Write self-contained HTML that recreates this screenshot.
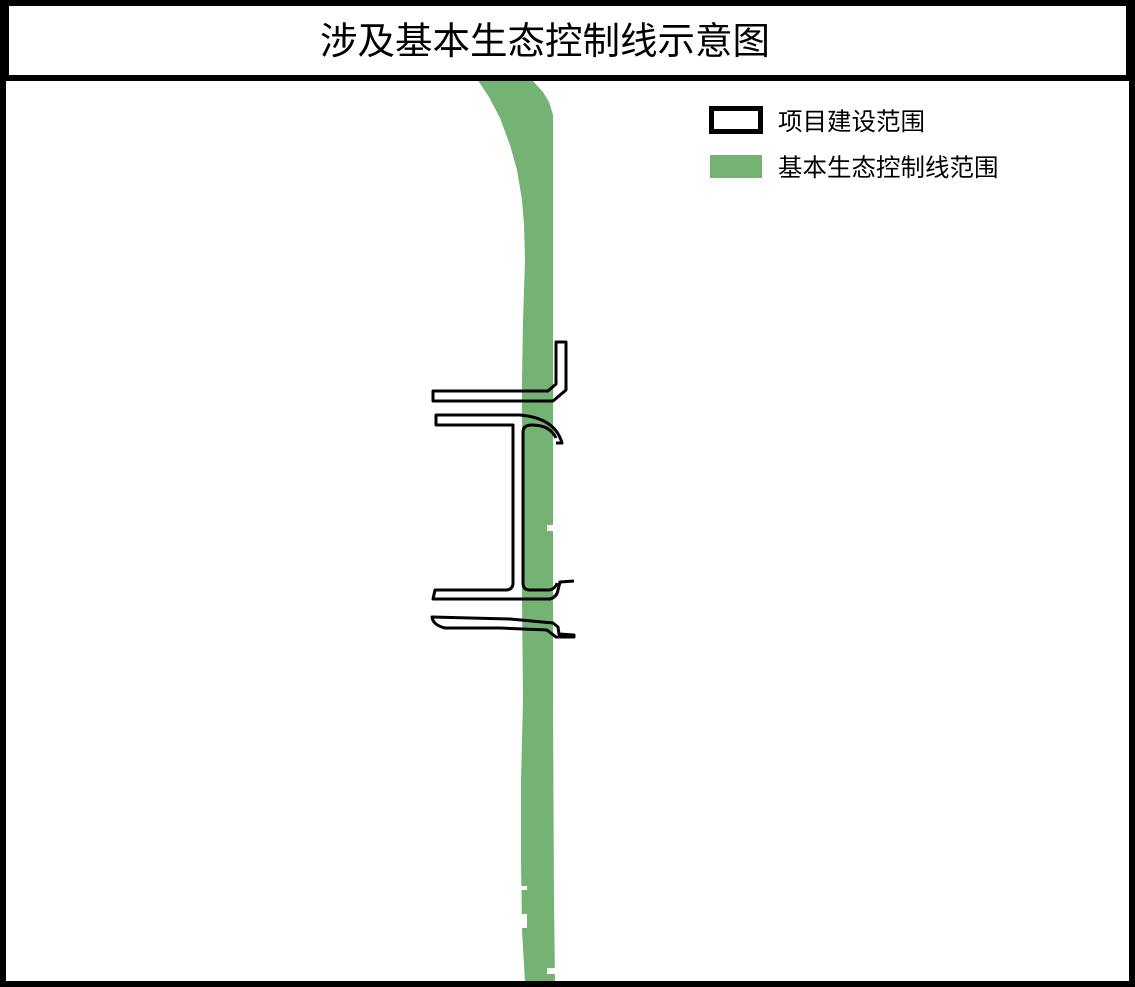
<!DOCTYPE html>
<html><head><meta charset="utf-8"><style>
html,body{margin:0;padding:0;background:#fff;}
body{width:1135px;height:987px;overflow:hidden;position:relative;font-family:"Liberation Sans","Noto Sans CJK SC",sans-serif;}
</style></head><body>
<svg width="1135" height="987" viewBox="0 0 1135 987" style="position:absolute;left:0;top:0">
<rect x="0" y="0" width="1135" height="987" fill="#fff"/>
<path d="M477,79 L531,79 L543,92 L549,102 L553,115 L553,700 L554,900 L555,982 L525,982 L522,930 L521,860 L521,780 L523,700 L522,600 L522,380 L523,320 L525,260 L524,225 L522,200 L517,170 L510,145 L500,118 L489,97 Z" fill="#74b374"/>
<rect x="519" y="886" width="8" height="4" fill="#fff"/>
<rect x="519" y="914" width="8" height="14" fill="#fff"/>
<rect x="547" y="968" width="8" height="6" fill="#fff"/>
<rect x="547" y="525" width="8" height="6" fill="#fff"/>
<g fill="none" stroke="#000" stroke-width="3" stroke-linejoin="round">
<path d="M433,391 L548,391 L556,384 L556,342 L566,342 L566,390 L553,401 L433,401 Z"/>
<path d="M556,443 L562,443 Q555,418 520,415 L436,415 L436,425 L513,425 L513,583 Q513,589 507,590 L435,590 L433,599 L550,599 Q557,597 558,590 L560,582 L574,581"/>
<path d="M556,438 Q550,425 532,425 Q523,425 523,432 L523,583 Q523,590 530,590 L550,590 Q556,588 557,583"/>
<path d="M432,617 L510,619 L553,623 L558,627 L559,634 L574,635 L574,637 L556,637 L547,630 L500,628 L445,628 Q433,625 432,617 Z"/>
</g>
<rect x="3" y="3" width="1127" height="75" fill="none" stroke="#000" stroke-width="6"/>
<rect x="0" y="0" width="9" height="80" fill="#000"/>
<rect x="1126" y="0" width="9" height="80" fill="#000"/>
<rect x="0" y="75" width="1135" height="6" fill="#000"/>
<rect x="0" y="75" width="6" height="912" fill="#000"/>
<rect x="1129" y="75" width="6" height="912" fill="#000"/>
<rect x="0" y="981" width="1135" height="6" fill="#000"/>
<rect x="711.5" y="108.5" width="49" height="23" fill="#fff" stroke="#000" stroke-width="5"/>
<rect x="710" y="155" width="52" height="23" fill="#74b374"/>
<text x="545" y="54" font-size="37.5" text-anchor="middle" fill="#000" font-family="Liberation Sans, Noto Sans CJK SC, sans-serif">涉及基本生态控制线示意图</text>
<text x="778" y="130" font-size="24.5" fill="#000" font-family="Liberation Sans, Noto Sans CJK SC, sans-serif">项目建设范围</text>
<text x="778" y="176" font-size="24.5" fill="#000" font-family="Liberation Sans, Noto Sans CJK SC, sans-serif">基本生态控制线范围</text>
</svg>
</body></html>
